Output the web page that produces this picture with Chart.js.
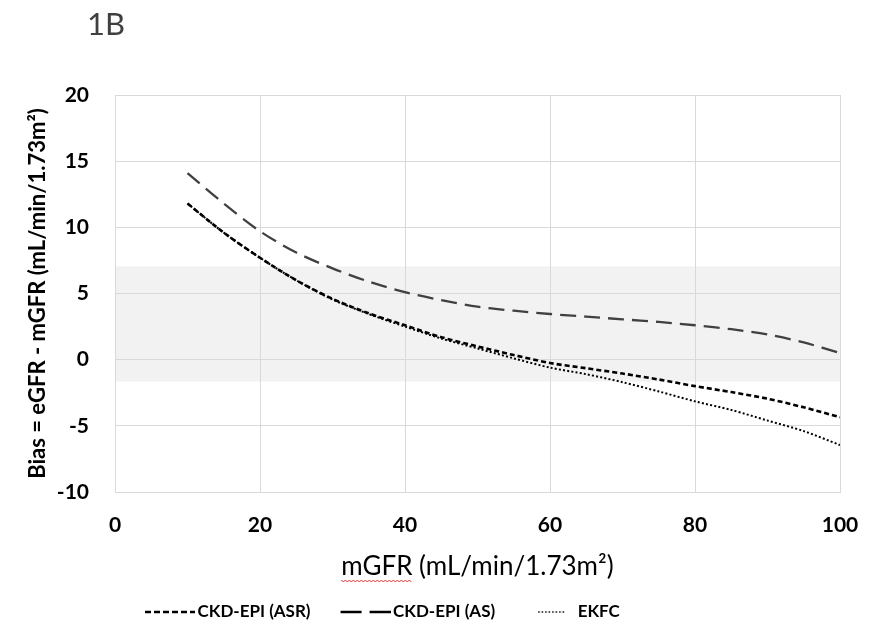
<!DOCTYPE html>
<html>
<head>
<meta charset="utf-8">
<title>1B</title>
<script src="https://cdn.jsdelivr.net/npm/chart.js@4/dist/chart.umd.min.js"></script>
<style>
  html, body { margin: 0; padding: 0; background: #fff; }
</style>
</head>
<body>
<canvas id="myChart" width="875" height="641"></canvas>
<script>
// mGFR values (x) and bias for each equation
const mgfr = [10, 15, 20, 25, 30, 35, 40, 45, 50, 55, 60, 65, 70, 75, 80, 85, 90, 95, 100];
const biasAsr = [11.8, 9.6, 7.7, 6.0, 4.6, 3.5, 2.6, 1.7, 1.0, 0.35, -0.25, -0.65, -1.05, -1.5, -2.0, -2.45, -2.95, -3.6, -4.35];
const biasAs = [14.1, 11.8, 9.7, 8.1, 6.9, 5.9, 5.1, 4.5, 4.0, 3.7, 3.45, 3.25, 3.05, 2.85, 2.6, 2.3, 1.9, 1.3, 0.5];
const biasEkfc = [11.8, 9.6, 7.7, 6.0, 4.55, 3.45, 2.5, 1.6, 0.85, 0.1, -0.6, -1.1, -1.7, -2.4, -3.15, -3.8, -4.6, -5.4, -6.45];

// grey band (upper / lower limit)
const bandLimits = [7.05, -1.65];

const xTicks = [0, 20, 40, 60, 80, 100];
const yTicks = [-10, -5, 0, 5, 10, 15, 20];

const FONT = 'Lato, "Open Sans", sans-serif';
const GRID = '#d9d9d9';

function toPoints(ys) {
    return mgfr.map((x, i) => ({ x: x, y: ys[i] }));
}

// small picture of a dashed line for the legend
function legendLine(dash, width, color, from, to) {
    const c = document.createElement('canvas');
    c.width = 56;
    c.height = 6;
    const g = c.getContext('2d');
    g.strokeStyle = color;
    g.lineWidth = width;
    g.setLineDash(dash);
    g.beginPath();
    g.moveTo(from, 3);
    g.lineTo(to, 3);
    g.stroke();
    return c;
}

// band behind the grid
const bandPlugin = {
    id: 'band',
    beforeDraw(chart) {
        const { ctx, chartArea, scales } = chart;
        const yTop = scales.y.getPixelForValue(bandLimits[0]);
        const yBot = scales.y.getPixelForValue(bandLimits[1]);
        ctx.save();
        ctx.fillStyle = '#f2f2f2';
        ctx.fillRect(chartArea.left, yTop, chartArea.right - chartArea.left, yBot - yTop);
        ctx.restore();
    }
};

// panel label + spell-check squiggle under "mGFR"
const extrasPlugin = {
    id: 'extras',
    afterDraw(chart) {
        const { ctx, scales } = chart;
        ctx.save();
        ctx.fillStyle = '#404040';
        ctx.font = '31px ' + FONT;
        ctx.textBaseline = 'top';
        ctx.fillText('1B', 87, 9);

        const xs = scales.x;
        const t = xs.options.title;
        ctx.font = t.font.weight + ' ' + t.font.size + 'px ' + FONT;
        const full = ctx.measureText(t.text).width;
        const word = ctx.measureText('mGFR').width;
        const x0 = (xs.left + xs.right) / 2 - full / 2;
        const yLine = 580;
        ctx.strokeStyle = '#e03030';
        ctx.lineWidth = 1;
        ctx.beginPath();
        for (let x = 0; x <= word; x += 2) {
            const yy = yLine + ((x / 2) % 2 === 0 ? 0 : 2);
            if (x === 0) ctx.moveTo(x0 + x, yy); else ctx.lineTo(x0 + x, yy);
        }
        ctx.stroke();
        ctx.restore();
    }
};

const ctx = document.getElementById('myChart').getContext('2d');
const chart = new Chart(ctx, {
    type: 'line',
    data: {
        datasets: [
            {
                label: 'CKD-EPI (ASR)',
                data: toPoints(biasAsr),
                borderColor: '#000',
                borderWidth: 2.6,
                borderDash: [5, 3],
                pointRadius: 0,
                pointStyle: legendLine([6, 3], 2.4, '#000', 6, 56),
                tension: 0.3,
                fill: false
            },
            {
                label: 'CKD-EPI (AS)',
                data: toPoints(biasAs),
                borderColor: '#404040',
                borderWidth: 2.3,
                borderDash: [16, 8],
                pointRadius: 0,
                pointStyle: legendLine([21, 8], 2.4, '#000', 6, 56),
                tension: 0.3,
                fill: false
            },
            {
                label: 'EKFC',
                data: toPoints(biasEkfc),
                borderColor: '#000',
                borderWidth: 2,
                borderDash: [2, 2.2],
                pointRadius: 0,
                pointStyle: legendLine([1.5, 2], 1.6, '#000', 19, 46),
                tension: 0.3,
                fill: false
            }
        ]
    },
    options: {
        responsive: false,
        animation: false,
        devicePixelRatio: 1,
        layout: { padding: { top: 95, right: 35, bottom: 10.5, left: 0 } },
        plugins: {
            legend: {
                position: 'bottom',
                align: 'start',
                fullSize: false,
                labels: {
                    usePointStyle: true,
                    pointStyleWidth: 44,
                    padding: 30,
                    color: '#000',
                    font: { family: FONT, size: 17, weight: 'bold' }
                }
            },
            tooltip: { enabled: false }
        },
        scales: {
            x: {
                type: 'linear',
                min: 0,
                max: 100,
                afterFit(s) {
                    s.height = 81.5;
                    s.paddingLeft = 0;
                    s.paddingRight = 0;
                },
                afterBuildTicks(s) { s.ticks = xTicks.map(v => ({ value: v })); },
                grid: { color: GRID, drawTicks: false },
                border: { color: GRID },
                ticks: {
                    padding: 21,
                    color: '#000',
                    font: { family: FONT, size: 21, weight: 'bold' }
                },
                title: {
                    display: true,
                    text: 'mGFR (mL/min/1.73m²)',
                    color: '#000',
                    padding: { top: 0, bottom: -9 },
                    font: { family: FONT, size: 26, weight: 'normal' }
                }
            },
            y: {
                min: -10,
                max: 20,
                afterFit(s) { s.width = 115; },
                afterBuildTicks(s) { s.ticks = yTicks.map(v => ({ value: v })); },
                grid: { color: GRID, drawTicks: false },
                border: { color: GRID },
                ticks: {
                    padding: 26,
                    color: '#000',
                    font: { family: FONT, size: 21, weight: 'bold' }
                },
                title: {
                    display: true,
                    text: 'Bias = eGFR - mGFR (mL/min/1.73m²)',
                    color: '#000',
                    padding: { top: 25, bottom: 0 },
                    font: { family: FONT, size: 22, weight: 'bold' }
                }
            }
        }
    },
    plugins: [bandPlugin, extrasPlugin]
});
</script>
</body>
</html>
